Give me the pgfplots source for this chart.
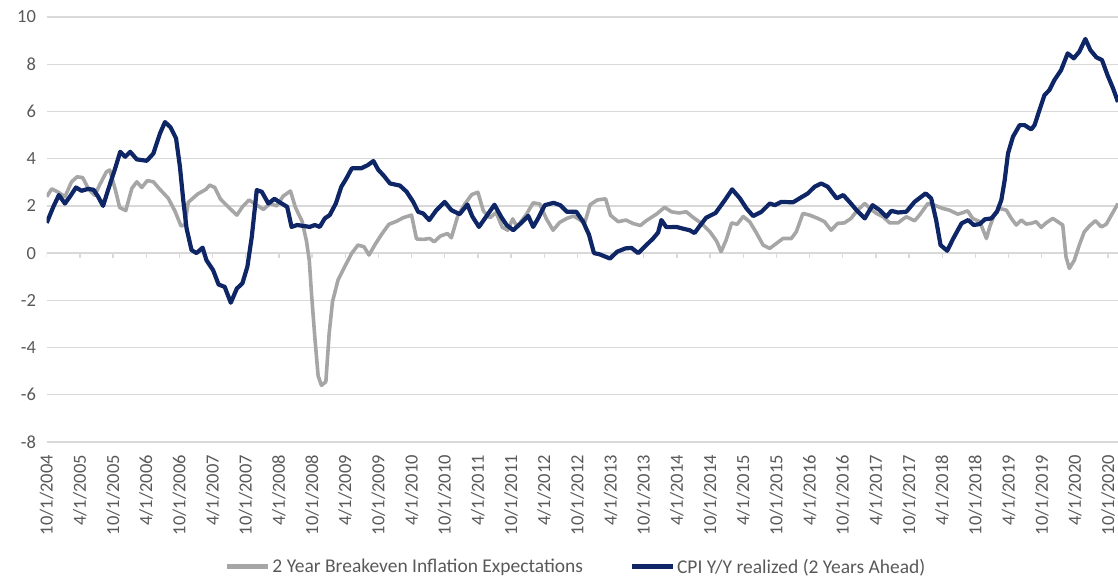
\documentclass[border=0pt]{standalone}
\usepackage{fontspec}
\setmainfont{Carlito}
\usepackage{pgfplots}
\pgfplotsset{compat=1.18}
\definecolor{navy}{HTML}{0E2566}
\definecolor{lgray}{HTML}{A6A6A6}
\definecolor{gridgray}{HTML}{D9D9D9}
\definecolor{txtgray}{HTML}{595959}
\begin{document}
\begin{tikzpicture}[x=1pt,y=1pt]
\useasboundingbox (0,0) rectangle (1118,581);
\begin{axis}[
  at={(46.7pt,139pt)}, anchor=south west,
  scale only axis, width=1071.3pt, height=425pt,
  xmin=0, xmax=193.8, ymin=-8, ymax=10,
  axis line style={draw=none},
  tick style={draw=none},
  major tick length=0pt,
  ytick={-8,-6,...,10},
  yticklabels={-8,-6,-4,-2,0,2,4,6,8,10},
  ymajorgrids,
  grid style={line width=1.3pt, color=gridgray},
  xtick={0,6,...,192},
  xticklabels={10/1/2004,4/1/2005,10/1/2005,4/1/2006,10/1/2006,4/1/2007,10/1/2007,4/1/2008,10/1/2008,4/1/2009,10/1/2009,4/1/2010,10/1/2010,4/1/2011,10/1/2011,4/1/2012,10/1/2012,4/1/2013,10/1/2013,4/1/2014,10/1/2014,4/1/2015,10/1/2015,4/1/2016,10/1/2016,4/1/2017,10/1/2017,4/1/2018,10/1/2018,4/1/2019,10/1/2019,4/1/2020,10/1/2020},
  xticklabel style={rotate=90, anchor=east, inner sep=0pt, font=\fontsize{18.5}{20}\selectfont, text=txtgray},
  yticklabel style={anchor=east, inner sep=0pt, font=\fontsize{18.5}{20}\selectfont, text=txtgray},
  xticklabel shift=13pt,
  yticklabel shift=10.5pt,
  line join=round,
  legend columns=2,
  legend cell align=left,
  legend style={draw=none, fill=none, at={(0.494,-0.294)}, anchor=center,
    font=\fontsize{19.5}{21}\selectfont, text=txtgray,
    nodes={inner sep=2pt},
    /tikz/every even column/.append style={column sep=44pt}},
  legend image code/.code={\draw[#1, line width=5pt] (0pt,0pt) -- (41pt,0pt);},
]
\pgfplotsinvokeforeach{0,6,...,192}{
  \draw[gridgray, line width=1.3pt] (axis cs:#1,0) -- ++(0pt,-5pt);
}
\addplot[lgray, line width=3.6pt, no marks] coordinates {
(0,2.39)(0.9,2.72)(2.1,2.58)(3.3,2.39)(4.5,3.02)(5.5,3.23)(6.5,3.2)(7.6,2.7)(8.7,2.45)(9.6,2.9)
(10.8,3.44)(11.4,3.52)(12.4,2.7)(13.2,1.93)(14.3,1.8)(15.4,2.74)(16.3,3.02)(17.2,2.78)(18.2,3.07)(19.3,3.02)
(20.4,2.72)(22.0,2.32)(23.2,1.78)(24.3,1.15)(25.0,1.2)(25.6,2.15)(27.3,2.5)(28.8,2.7)(29.5,2.88)(30.4,2.78)
(31.4,2.3)(33.0,1.92)(34.4,1.61)(35.4,1.96)(36.6,2.25)(37.9,2.05)(39.2,1.85)(40.4,2.1)(41.6,2.0)(42.8,2.42)
(44.1,2.63)(45.0,1.93)(46.2,1.35)(47.0,0.5)(47.5,-0.3)(47.9,-1.71)(48.5,-3.55)(49.1,-5.2)(49.7,-5.6)(50.5,-5.45)
(51.1,-3.4)(51.7,-2.06)(52.7,-1.14)(53.9,-0.58)(55.2,0.0)(56.3,0.34)(57.4,0.27)(58.3,-0.08)(59.5,0.4)(60.6,0.8)
(61.9,1.22)(63.3,1.35)(64.5,1.5)(66.0,1.61)(66.9,0.6)(68.1,0.58)(69.3,0.62)(70.1,0.48)(71.2,0.72)(72.5,0.83)
(73.2,0.65)(74.4,1.6)(75.7,2.1)(76.9,2.48)(78.0,2.58)(79.0,1.78)(80.2,1.5)(81.3,1.72)(82.4,1.1)(83.4,0.97)
(84.3,1.45)(85.1,1.11)(86.8,1.65)(88.0,2.13)(89.2,2.08)(90.4,1.45)(91.6,0.97)(92.8,1.3)(94.1,1.47)(95.3,1.57)
(96.2,1.45)(97.3,1.26)(98.3,2.05)(99.6,2.25)(101.1,2.3)(102.0,1.6)(103.4,1.33)(104.8,1.4)(106.1,1.25)(107.4,1.17)
(108.5,1.38)(110.3,1.65)(111.8,1.94)(113.0,1.75)(114.4,1.7)(115.7,1.75)(116.9,1.52)(118.5,1.25)(120.0,0.9)(121.2,0.5)
(122.0,0.06)(122.9,0.55)(123.9,1.28)(124.9,1.22)(126.0,1.55)(127.2,1.32)(128.4,0.85)(129.6,0.34)(130.8,0.2)(132.0,0.41)
(133.2,0.62)(134.7,0.62)(135.6,0.9)(136.8,1.68)(138.0,1.61)(139.5,1.47)(140.7,1.33)(141.9,0.97)(143.1,1.26)(144.3,1.28)
(145.5,1.47)(146.6,1.8)(148.0,2.1)(148.9,1.89)(150.1,1.68)(151.3,1.54)(152.5,1.28)(154.0,1.28)(155.5,1.54)(157.0,1.37)
(157.9,1.61)(159.4,2.1)(160.6,2.03)(162.1,1.89)(163.3,1.82)(164.8,1.65)(165.7,1.71)(166.6,1.79)(167.5,1.47)(168.8,1.33)
(170.0,0.62)(170.6,1.11)(171.5,1.68)(172.4,1.89)(173.6,1.82)(174.5,1.47)(175.4,1.19)(176.3,1.4)(177.2,1.23)(178.1,1.26)
(179.0,1.33)(179.9,1.09)(180.8,1.28)(182.0,1.47)(182.9,1.33)(183.8,1.19)(184.4,-0.16)(185.0,-0.65)(185.9,-0.3)(186.8,0.34)
(187.7,0.9)(188.6,1.14)(189.7,1.37)(190.8,1.11)(191.7,1.23)(192.6,1.61)(193.8,2.1)
};
\addlegendentry{2 Year Breakeven Inflation Expectations}
\addplot[navy, line width=4.2pt, no marks] coordinates {
(0,1.28)(1.2,1.96)(2.2,2.46)(3.3,2.1)(4.2,2.39)(5.3,2.78)(6.3,2.64)(7.5,2.72)(8.5,2.68)(9.3,2.39)
(10.2,2.0)(11.1,2.67)(12.4,3.6)(13.3,4.29)(14.2,4.08)(15.1,4.29)(16.3,3.97)(18.1,3.91)(19.3,4.22)(20.5,5.07)
(21.4,5.55)(22.4,5.33)(23.4,4.86)(24.1,3.66)(24.7,2.25)(25.3,1.05)(26.2,0.13)(27.1,0.0)(28.2,0.23)(28.9,-0.3)
(30.1,-0.72)(31.1,-1.33)(32.2,-1.43)(33.3,-2.1)(34.4,-1.5)(35.4,-1.28)(36.3,-0.58)(37.1,0.69)(38.0,2.67)(38.9,2.6)
(40.1,2.1)(41.2,2.3)(42.5,2.1)(43.5,1.96)(44.3,1.11)(45.3,1.19)(47.6,1.11)(48.5,1.19)(49.4,1.11)(50.3,1.47)
(51.2,1.61)(52.3,2.1)(53.3,2.81)(54.2,3.16)(55.2,3.59)(56.9,3.59)(58.1,3.73)(59.1,3.9)(60.0,3.52)(60.9,3.3)
(62.1,2.95)(63.9,2.86)(65.1,2.6)(66.3,2.17)(67.2,1.75)(68.1,1.68)(69.2,1.4)(70.5,1.82)(72.0,2.17)(73.2,1.82)
(74.7,1.65)(76.1,2.06)(77.0,1.55)(78.2,1.11)(79.6,1.58)(81.0,2.05)(82.2,1.54)(83.2,1.19)(84.4,0.97)(85.8,1.27)
(87.1,1.58)(88.0,1.11)(88.9,1.47)(90.1,2.03)(91.7,2.13)(92.9,2.03)(94.1,1.75)(95.8,1.75)(97.0,1.35)(98.1,0.78)
(99.0,0.0)(100.0,-0.05)(101.9,-0.23)(103.2,0.06)(104.7,0.2)(105.8,0.22)(107.0,0.0)(108.3,0.3)(109.7,0.62)(110.6,0.87)
(111.2,1.4)(112.1,1.1)(113.0,1.1)(113.9,1.11)(115.2,1.03)(116.3,0.97)(117.2,0.85)(118.1,1.14)(119.3,1.5)(121.0,1.7)
(122.7,2.25)(124.0,2.7)(125.4,2.32)(126.6,1.89)(127.8,1.57)(129.3,1.75)(130.8,2.1)(131.7,2.03)(132.9,2.17)(135.0,2.15)
(136.2,2.32)(137.7,2.53)(138.9,2.81)(140.1,2.95)(141.3,2.81)(142.9,2.32)(144.1,2.46)(145.3,2.15)(146.5,1.82)(148.0,1.47)
(149.4,2.03)(150.7,1.82)(151.9,1.54)(152.8,1.79)(154.0,1.72)(155.5,1.75)(157.0,2.17)(159.0,2.53)(160.0,2.32)(160.9,1.4)
(161.7,0.34)(162.9,0.1)(164.0,0.62)(165.5,1.26)(166.7,1.4)(167.7,1.19)(168.8,1.23)(169.7,1.43)(170.9,1.47)(171.9,1.75)
(172.7,2.25)(173.3,3.09)(173.9,4.22)(174.8,4.93)(176.0,5.42)(176.9,5.42)(178.1,5.24)(178.7,5.42)(179.6,6.06)(180.5,6.69)
(181.4,6.91)(182.3,7.33)(183.5,7.75)(184.7,8.46)(185.8,8.25)(186.8,8.53)(187.9,9.07)(188.8,8.6)(189.9,8.29)(190.9,8.18)
(191.9,7.54)(192.9,6.98)(193.8,6.4)
};
\addlegendentry{CPI Y/Y realized (2 Years Ahead)}
\end{axis}
\end{tikzpicture}
\end{document}
